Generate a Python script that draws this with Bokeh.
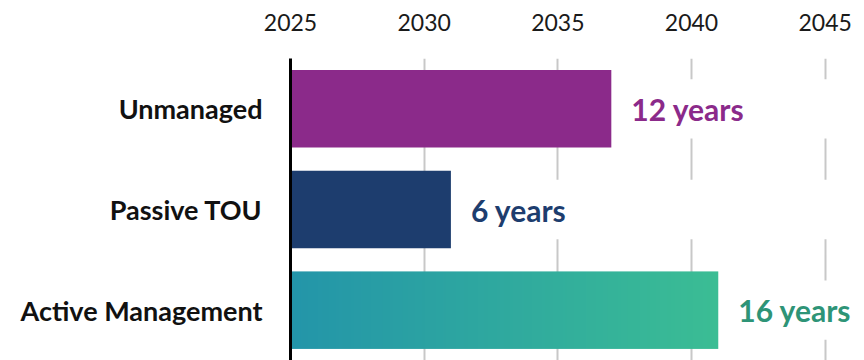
import numpy as np
from bokeh.plotting import figure
from bokeh.models import FixedTicker, ColumnDataSource, Range1d
from bokeh.core.properties import value
from bokeh.embed import file_html
from bokeh.resources import INLINE

# ---- data ----
categories = ["Unmanaged", "Passive TOU", "Active Management"]
years = [12, 6, 16]
start_year = 2025
x_ticks = [2025, 2030, 2035, 2040, 2045]

# ---- styling ----
bar_colors = ["#8B2A8A", "#1D3D6E"]
label_colors = ["#8B2A8A", "#1D3D6E", "#2E9477"]
grad_left = (0x23, 0x95, 0xA9)
grad_right = (0x3B, 0xBD, 0x94)
FONT = "Lato"

pos = [3, 2, 1]
ends = [start_year + v for v in years]
x_max = 2046.47

p = figure(width=864, height=360, output_backend="svg", toolbar_location=None,
           x_range=Range1d(start_year, x_max), y_range=Range1d(0.5, 3.5),
           x_axis_location="above",
           min_border_left=290, min_border_right=0, min_border_top=58, min_border_bottom=0)
p.outline_line_color = None
p.background_fill_color = "white"

# grid
p.xgrid.ticker = FixedTicker(ticks=x_ticks)
p.xgrid.grid_line_color = "#C8C8C8"
p.xgrid.grid_line_width = 2
p.ygrid.grid_line_color = None

# x axis (top)
xa = p.xaxis[0]
xa.ticker = FixedTicker(ticks=x_ticks)
xa.axis_line_color = None
xa.major_tick_line_color = None
xa.minor_tick_line_color = None
xa.major_tick_out = 0
xa.major_label_text_font = FONT
xa.major_label_text_font_size = "23px"
xa.major_label_text_color = "#1A1A1A"
xa.major_label_standoff = 28

# y axis
ya = p.yaxis[0]
ya.ticker = FixedTicker(ticks=pos)
ya.major_label_overrides = {pp: c for pp, c in zip(pos, categories)}
ya.axis_line_color = "black"
ya.axis_line_width = 3
ya.major_tick_line_color = None
ya.minor_tick_line_color = None
ya.major_tick_out = 0
ya.major_label_text_font = FONT
ya.major_label_text_font_style = "bold"
ya.major_label_text_font_size = "27px"
ya.major_label_text_color = "#111111"
ya.major_label_standoff = 28

# white bands hiding gridlines beside the bars
p.hbar(y=pos, left=ends, right=x_max, height=0.59, fill_color="white", line_color=None)

# solid bars
src = ColumnDataSource(dict(y=pos[:2], right=ends[:2], color=bar_colors))
p.hbar(y="y", left=start_year, right="right", height=0.77, fill_color="color",
       line_color=None, source=src)

# gradient bar (Active Management)
N = 256
img = np.zeros((1, N), dtype=np.uint32)
view = img.view(dtype=np.uint8).reshape((1, N, 4))
t = np.linspace(0, 1, N)
for k in range(3):
    view[0, :, k] = np.round(grad_left[k] + (grad_right[k] - grad_left[k]) * t).astype(np.uint8)
view[0, :, 3] = 255
p.image_rgba(image=[img], x=start_year, y=pos[2] - 0.385, dw=years[2], dh=0.77)

# value labels
lsrc = ColumnDataSource(dict(x=ends, y=pos, text=[f"{v} years" for v in years], color=label_colors))
p.text(x="x", y="y", text="text", source=lsrc, x_offset=20, text_baseline="middle",
       text_color="color", text_font=value(FONT), text_font_style="bold",
       text_font_size="30px")

open("out.html", "w").write(file_html(p, INLINE))
